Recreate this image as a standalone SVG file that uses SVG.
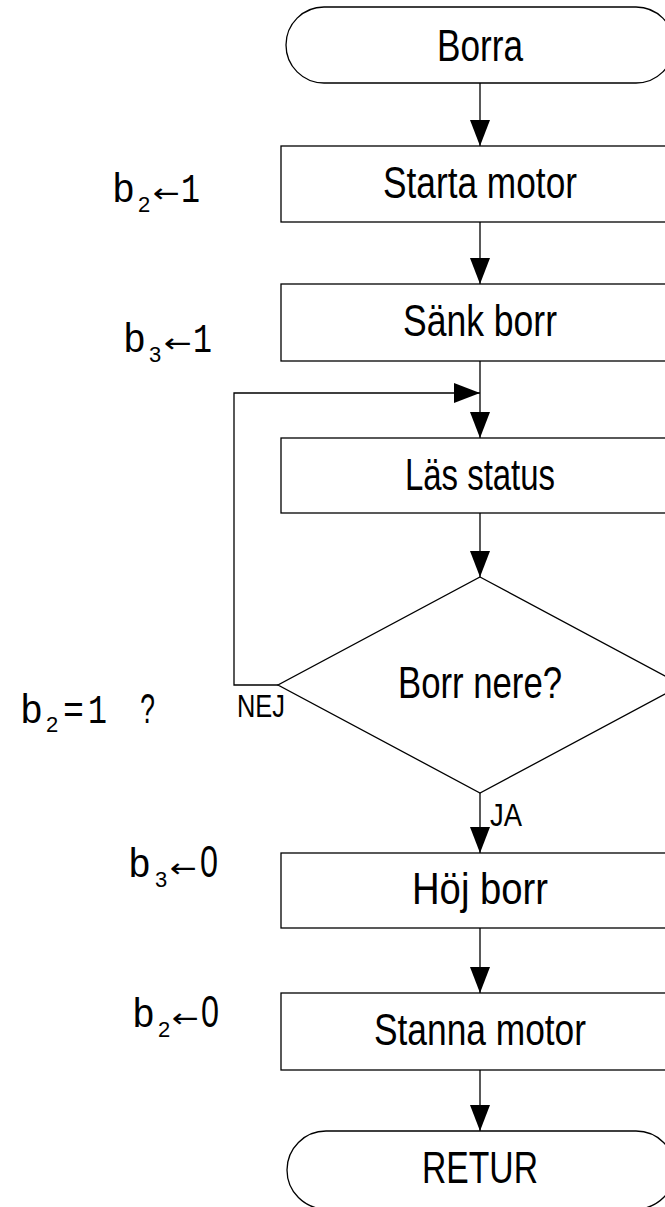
<svg xmlns="http://www.w3.org/2000/svg" width="665" height="1207" viewBox="0 0 665 1207">
<style>
.shape{fill:#fff;stroke:#000;stroke-width:1.3}
.conn{fill:none;stroke:#000;stroke-width:1.3}
.lbl{font-family:"Liberation Sans",Arial,sans-serif;font-size:45px;fill:#000}
.small{font-family:"Liberation Sans",Arial,sans-serif;font-size:31px;fill:#000}
.mono{font-family:"Liberation Mono","Courier New",monospace;font-size:41px;fill:#000}
.sub{font-family:"Liberation Sans",Arial,sans-serif;font-size:22px;fill:#000}
.arr{font-family:"DejaVu Sans",sans-serif;font-size:26px;fill:#000}
</style>
<defs>
<marker id="ah" markerUnits="userSpaceOnUse" markerWidth="26" markerHeight="20" refX="26" refY="10" orient="auto">
<path d="M0,0 L26,10 L0,20 z" fill="#000"/>
</marker>
</defs>
<rect width="665" height="1207" fill="#fff"/>
<g id="connectors">
<line class="conn" x1="480" y1="83" x2="480" y2="146" marker-end="url(#ah)"/>
<line class="conn" x1="480" y1="222" x2="480" y2="284" marker-end="url(#ah)"/>
<line class="conn" x1="480" y1="361" x2="480" y2="438" marker-end="url(#ah)"/>
<line class="conn" x1="480" y1="513" x2="480" y2="577" marker-end="url(#ah)"/>
<polyline class="conn" points="278,685 234,685 234,393 480,393" marker-end="url(#ah)"/>
<line class="conn" x1="480" y1="793" x2="480" y2="853" marker-end="url(#ah)"/>
<line class="conn" x1="480" y1="928" x2="480" y2="993" marker-end="url(#ah)"/>
<line class="conn" x1="480" y1="1070" x2="480" y2="1131" marker-end="url(#ah)"/>
<text class="small" x="237" y="717" textLength="48" lengthAdjust="spacingAndGlyphs">NEJ</text>
<text class="small" x="490" y="826" textLength="32" lengthAdjust="spacingAndGlyphs">JA</text>
</g>
<g id="start">
<rect class="shape" x="286" y="7" width="388" height="76" rx="38" ry="38"/>
<text class="lbl" x="480" y="61" text-anchor="middle" textLength="86" lengthAdjust="spacingAndGlyphs">Borra</text>
</g>
<g id="starta-motor">
<rect class="shape" x="281" y="146" width="398" height="76"/>
<text class="lbl" x="480" y="198" text-anchor="middle" textLength="194" lengthAdjust="spacingAndGlyphs">Starta motor</text>
</g>
<g id="sank-borr">
<rect class="shape" x="281" y="284" width="398" height="77"/>
<text class="lbl" x="480" y="336" text-anchor="middle" textLength="154" lengthAdjust="spacingAndGlyphs">Sänk borr</text>
</g>
<g id="las-status">
<rect class="shape" x="281" y="438" width="398" height="75"/>
<text class="lbl" x="480" y="490" text-anchor="middle" textLength="150" lengthAdjust="spacingAndGlyphs">Läs status</text>
</g>
<g id="borr-nere">
<polygon class="shape" points="480,577 682,685 480,793 278,685"/>
<text class="lbl" x="480" y="698" text-anchor="middle" textLength="164" lengthAdjust="spacingAndGlyphs">Borr nere?</text>
</g>
<g id="hoj-borr">
<rect class="shape" x="281" y="853" width="398" height="75"/>
<text class="lbl" x="480" y="904" text-anchor="middle" textLength="136" lengthAdjust="spacingAndGlyphs">Höj borr</text>
</g>
<g id="stanna-motor">
<rect class="shape" x="281" y="993" width="398" height="77"/>
<text class="lbl" x="480" y="1045" text-anchor="middle" textLength="212" lengthAdjust="spacingAndGlyphs">Stanna motor</text>
</g>
<g id="retur">
<rect class="shape" x="287" y="1131" width="388" height="78" rx="39" ry="39"/>
<text class="lbl" x="480" y="1183" text-anchor="middle" textLength="116" lengthAdjust="spacingAndGlyphs">RETUR</text>
</g>
<g id="annotations">
<text class="mono" x="112" y="202" textLength="23" lengthAdjust="spacingAndGlyphs">b</text>
<text class="sub" x="138" y="212">2</text>
<text class="arr" x="153" y="202" textLength="27" lengthAdjust="spacingAndGlyphs">←</text>
<text class="mono" x="181" y="202" textLength="19" lengthAdjust="spacingAndGlyphs">1</text>

<text class="mono" x="123" y="352" textLength="23" lengthAdjust="spacingAndGlyphs">b</text>
<text class="sub" x="149" y="362">3</text>
<text class="arr" x="164" y="352" textLength="28" lengthAdjust="spacingAndGlyphs">←</text>
<text class="mono" x="193" y="352" textLength="19" lengthAdjust="spacingAndGlyphs">1</text>

<text class="mono" x="20" y="723" textLength="23" lengthAdjust="spacingAndGlyphs">b</text>
<text class="sub" x="46" y="732">2</text>
<text class="mono" x="63" y="723" textLength="21" lengthAdjust="spacingAndGlyphs">=</text>
<text class="mono" x="88" y="723" textLength="19" lengthAdjust="spacingAndGlyphs">1</text>
<text class="mono" x="140" y="723" style="font-size:44px" textLength="16" lengthAdjust="spacingAndGlyphs">?</text>

<text class="mono" x="128" y="877" textLength="23" lengthAdjust="spacingAndGlyphs">b</text>
<text class="sub" x="155" y="887">3</text>
<text class="arr" x="170" y="877" textLength="27" lengthAdjust="spacingAndGlyphs">←</text>
<text class="lbl" x="200" y="877" textLength="18" lengthAdjust="spacingAndGlyphs">0</text>

<text class="mono" x="132" y="1027" textLength="23" lengthAdjust="spacingAndGlyphs">b</text>
<text class="sub" x="158" y="1037">2</text>
<text class="arr" x="172" y="1027" textLength="27" lengthAdjust="spacingAndGlyphs">←</text>
<text class="lbl" x="201" y="1027" textLength="18" lengthAdjust="spacingAndGlyphs">0</text>
</g>
</svg>
